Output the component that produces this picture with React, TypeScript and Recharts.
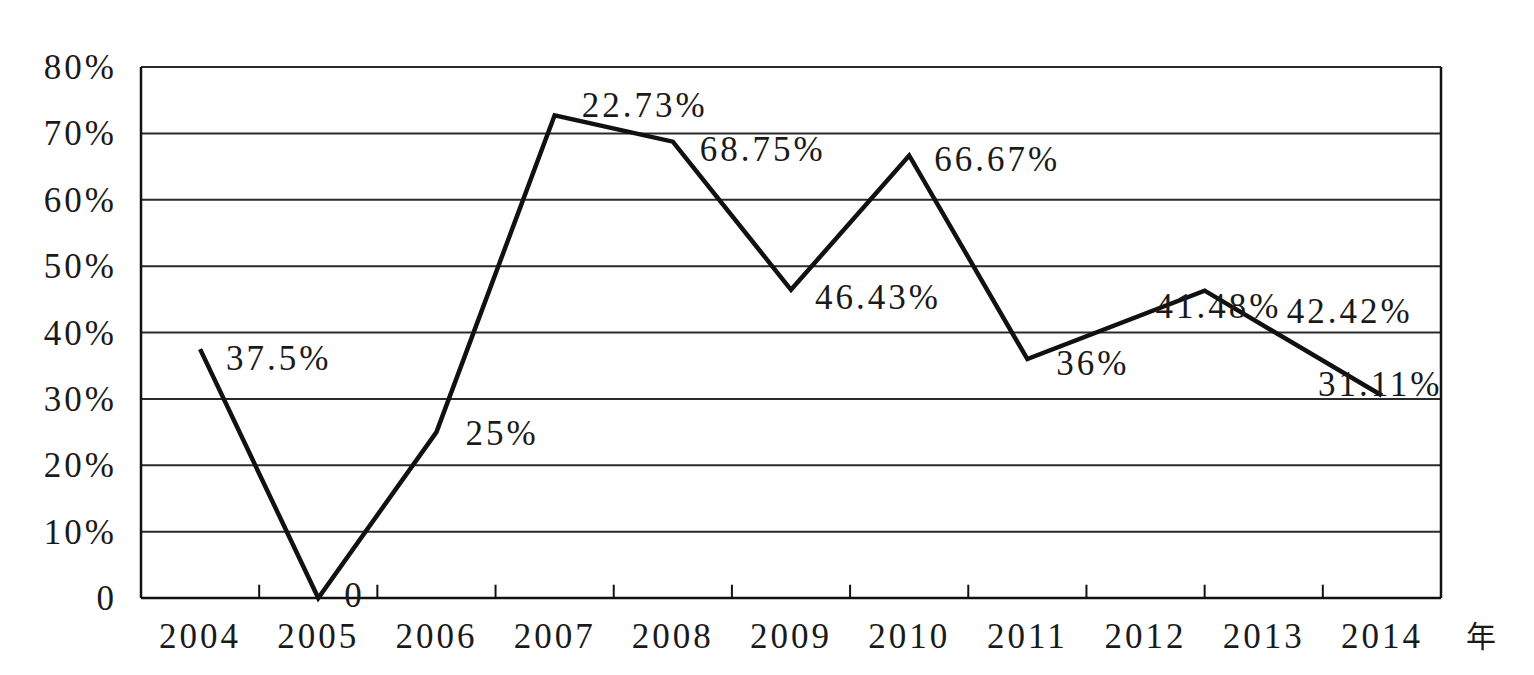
import React from "react";
import {
  ComposedChart,
  Line,
  Scatter,
  XAxis,
  YAxis,
  CartesianGrid,
  ReferenceLine,
} from "recharts";

// Category labels on the x axis
const years = [2004, 2005, 2006, 2007, 2008, 2009, 2010, 2011, 2012, 2013, 2014];

// Line vertices as drawn in the picture (year position, percent)
const lineYears = [2004, 2005, 2006, 2007, 2008, 2009, 2010, 2011, 2012.5, 2014];
const lineValues = [37.5, 0, 25, 72.73, 68.75, 46.43, 66.67, 36, 46.3, 30.5];

// Data labels (text as printed, with the value each is anchored to)
const labelTexts = ["37.5%", "0", "25%", "22.73%", "68.75%", "46.43%", "66.67%", "36%", "41.48%", "42.42%", "31.11%"];
const labelValues = [37.5, 0, 25, 72.73, 68.75, 46.43, 66.67, 36, 41.48, 42.42, 31.11];

// Y axis ticks
const yTicks = [0, 10, 20, 30, 40, 50, 60, 70, 80];

// Label placement (style): [dx, dy] from the anchor point
const labelOffsets: [number, number][] = [
  [26, 21], [26, 9], [29, 13], [27, 2], [27, 19], [24, 19],
  [25, 16], [29, 16], [10, -5], [23, 7], [-64, 4.5],
];

const lineData = lineYears.map((x, i) => ({ x, v: lineValues[i] }));
const labelData = years.map((x, i) => ({ x, v: labelValues[i], text: labelTexts[i] }));
const boundaryTicks = years.slice(0, -1).map((y) => y + 0.5);

const FONT = "'Liberation Serif', 'DejaVu Serif', serif";
const TEXT_FILL = "#1a1a1a";
const FS = 35;
const LS = 3;
const TICK_MARK_HEIGHT = 2; // in axis units (percent), about 13px

const YTick = (props: any) => {
  const { x, y, payload } = props;
  const v = payload.value;
  return (
    <text
      x={x - 24}
      y={y + 12}
      textAnchor="end"
      fontFamily={FONT}
      fontSize={FS}
      letterSpacing={LS}
      fill={TEXT_FILL}
    >
      {v === 0 ? "0" : `${v}%`}
    </text>
  );
};

const XTick = (props: any) => {
  const { x, y, payload } = props;
  return (
    <text
      x={x}
      y={y + 50}
      textAnchor="middle"
      fontFamily={FONT}
      fontSize={FS}
      letterSpacing={LS}
      fill={TEXT_FILL}
    >
      {payload.value}
    </text>
  );
};

const LabelShape = (props: any) => {
  const { cx, cy, payload } = props;
  const i = years.indexOf(payload.x);
  const [dx, dy] = labelOffsets[i] || [0, 0];
  return (
    <text
      x={cx + dx}
      y={cy + dy}
      fontFamily={FONT}
      fontSize={FS}
      letterSpacing={LS}
      fill={TEXT_FILL}
    >
      {payload.text}
    </text>
  );
};

const YearUnit = (props: any) => {
  const vb = props.viewBox || {};
  const x = (vb.x || 0) + (vb.width || 0) + 40;
  const y = (vb.y || 0) + 49;
  return (
    <text
      x={x}
      y={y}
      textAnchor="middle"
      fontFamily="'Noto Sans CJK SC', sans-serif"
      fontSize={30}
      fill={TEXT_FILL}
    >
      年
    </text>
  );
};

export default function App() {
  return (
    <div style={{ position: "absolute", left: 0, top: 0, background: "#fff" }}>
      <ComposedChart
        width={1534}
        height={675}
        margin={{ top: 67, right: 93, bottom: 37, left: 0 }}
      >
        <CartesianGrid
          horizontal={true}
          vertical={false}
          stroke="#2a2a2a"
          strokeWidth={2}
        />
        <XAxis
          xAxisId="l"
          type="number"
          dataKey="x"
          domain={[2003.5, 2014.5]}
          ticks={years}
          height={40}
          tickSize={0}
          tickMargin={0}
          tickLine={false}
          axisLine={{ stroke: "#111", strokeWidth: 2.5 }}
          tick={<XTick />}
          interval={0}
          label={{ content: <YearUnit /> }}
          allowDataOverflow
        />
        <YAxis
          type="number"
          domain={[0, 80]}
          ticks={yTicks}
          width={141}
          tickSize={0}
          tickMargin={0}
          tickLine={false}
          axisLine={{ stroke: "#111", strokeWidth: 2.5 }}
          tick={<YTick />}
          interval={0}
        />
        {boundaryTicks.map((b) => (
          <ReferenceLine
            key={b}
            xAxisId="l"
            segment={[
              { x: b, y: 0 },
              { x: b, y: TICK_MARK_HEIGHT },
            ]}
            stroke="#111"
            strokeWidth={2}
          />
        ))}
        <ReferenceLine xAxisId="l" x={2014.5} stroke="#111" strokeWidth={2.5} />
        <Line
          xAxisId="l"
          data={lineData}
          dataKey="v"
          type="linear"
          stroke="#111"
          strokeWidth={4.5}
          strokeLinejoin="miter"
          dot={false}
          activeDot={false}
          isAnimationActive={false}
        />
        <Scatter
          xAxisId="l"
          data={labelData}
          dataKey="v"
          shape={<LabelShape />}
          isAnimationActive={false}
        />
      </ComposedChart>
    </div>
  );
}
